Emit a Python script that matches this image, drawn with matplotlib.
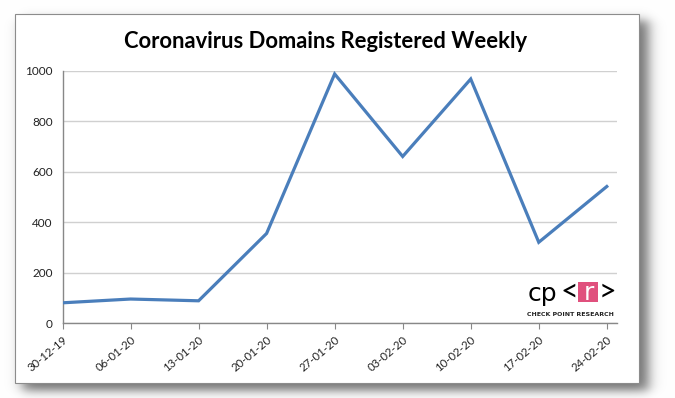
import numpy as np
import matplotlib
matplotlib.use("Agg")
import matplotlib.pyplot as plt
import matplotlib.transforms as mtransforms
from matplotlib.patches import Rectangle

# data
weeks = ["30-12-19", "06-01-20", "13-01-20", "20-01-20", "27-01-20",
         "03-02-20", "10-02-20", "17-02-20", "24-02-20"]
domains = [80, 95, 88, 355, 987, 660, 967, 320, 541]
y_ticks = [0, 200, 400, 600, 800, 1000]

W, H = 675, 398
fig = plt.figure(figsize=(W / 100, H / 100), dpi=100)
fig.patch.set_facecolor("white")

# soft drop shadow behind the chart box (right / bottom)
yy, xx = np.mgrid[0:H, 0:W]
def soft(v, lo, hi, s):
    return 1 / (1 + np.exp(-(v - lo) / s)) * 1 / (1 + np.exp((v - hi) / s))
shade = soft(xx, 22, 648, 3.8) * soft(yy, 20, 390, 3.0)
img = np.ones((H, W, 4))
img[..., :3] = 1 - 0.55 * shade[..., None]
img[..., 3] = 1
fig.figimage(img, 0, 0, origin="upper", zorder=0)

# chart box
def px(x0, y0, x1, y1):
    return (x0 / W, 1 - y1 / H, (x1 - x0) / W, (y1 - y0) / H)
bx = px(15, 14, 639, 383)
fig.patches.append(Rectangle((bx[0], bx[1]), bx[2], bx[3], transform=fig.transFigure,
                             facecolor="white", edgecolor="#8c8c8c", lw=0.8, zorder=1))

ax = fig.add_axes(px(62.5, 70.7, 617, 323))
ax.set_zorder(2)
ax.patch.set_alpha(0)
x = np.arange(len(weeks))
ax.plot(x, domains, color="#4a7ebb", lw=2.3, solid_joinstyle="miter", zorder=3)

ax.set_xlim(0, 8.15)
ax.set_ylim(0, 1000)
ax.set_yticks(y_ticks)
ax.set_yticklabels([str(v) for v in y_ticks], fontsize=8.5, color="#222222", family="Lato")
ax.set_xticks(x)
ax.set_xticklabels(weeks, rotation=40, ha="right", va="top", rotation_mode="anchor",
                   fontsize=8.2, color="#222222", family="Lato")
shift = mtransforms.ScaledTranslation(5 / 100, 0, fig.dpi_scale_trans)
for lbl in ax.get_xticklabels():
    lbl.set_transform(lbl.get_transform() + shift)
ax.tick_params(axis="y", length=0, pad=7)
ax.tick_params(axis="x", length=4, color="#888888", direction="out", pad=4)
ax.grid(axis="y", color="#d0d0d0", lw=1)
ax.set_axisbelow(True)
for s in ("top", "right"):
    ax.spines[s].set_visible(False)
for s in ("left", "bottom"):
    ax.spines[s].set_color("#888888")
    ax.spines[s].set_linewidth(1)

fig.text(326 / W, 1 - 42 / H, "Coronavirus Domains Registered Weekly", ha="center", va="center",
         fontsize=15.8, fontweight="bold", family="Lato", color="black")

# Check Point Research logo
fig.text(528 / W, 1 - 301 / H, "cp", fontsize=18, family="DejaVu Sans", color="black",
         ha="left", va="baseline", zorder=5)
brk = dict(fontsize=22, family="Lato", color="black", ha="center", va="baseline", zorder=5)
fig.text(569 / W, 1 - 301 / H, "<", **brk)
lb = px(578, 282, 598, 302)
fig.patches.append(Rectangle((lb[0], lb[1]), lb[2], lb[3], transform=fig.transFigure,
                             facecolor="#e0507d", edgecolor="none", zorder=4))
fig.text(588.5 / W, 1 - 300 / H, "r", fontsize=18, family="DejaVu Sans",
         color="white", ha="center", va="baseline", zorder=5)
fig.text(607 / W, 1 - 301 / H, ">", **brk)
fig.text(570 / W, 1 - 315 / H, "CHECK POINT RESEARCH", fontsize=4.5, fontweight="bold",
         family="DejaVu Sans", color="#222222", ha="center", va="center", zorder=5)

fig.savefig("out.png", dpi=100)
